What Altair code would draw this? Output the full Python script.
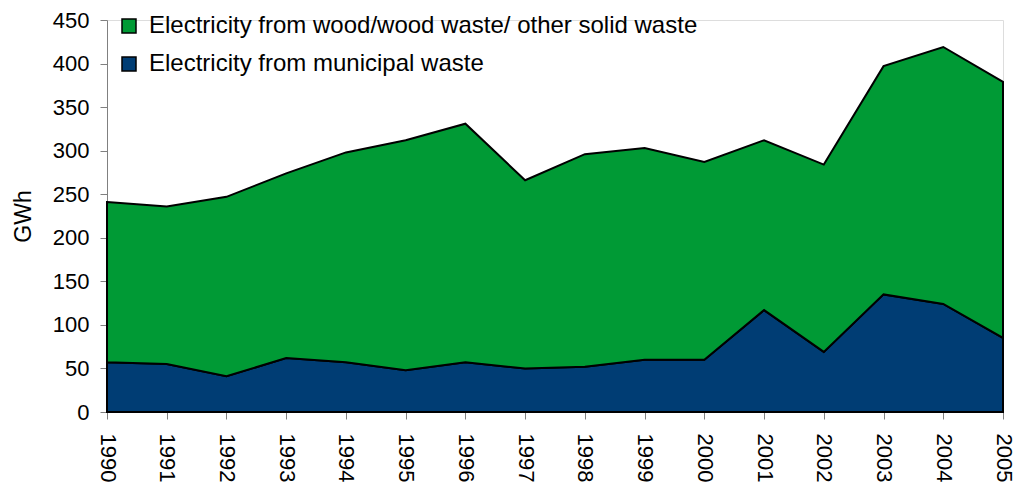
import altair as alt
import pandas as pd

years = list(range(1990, 2006))
municipal = [57, 55, 41, 62, 57, 48, 57, 50, 52, 60, 60, 117, 69, 135, 124, 85]
wood = [184, 181, 206, 212, 241, 264, 274, 216, 244, 243, 227, 195, 215, 262, 295, 294]

label_wood = "Electricity from wood/wood waste/ other solid waste"
label_mun = "Electricity from municipal waste"
series_labels = [label_wood, label_mun]
series_colors = ["#009A35", "#003D74"]

rows = []
for y, m, w in zip(years, municipal, wood):
    rows.append({"year": y, "value": m, "series": label_mun, "ord": 0})
    rows.append({"year": y, "value": w, "series": label_wood, "ord": 1})
df = pd.DataFrame(rows)

FONT = "Liberation Sans"

chart = alt.Chart(df).mark_area(stroke="black", strokeWidth=2, strokeJoin="miter").encode(
    x=alt.X("year:Q",
            scale=alt.Scale(domain=[1990, 2005], nice=False, zero=False),
            axis=alt.Axis(values=years, format="d", labelAngle=90, title=None,
                          grid=False, tickSize=7, labelPadding=14,
                          labelFontSize=22, labelFont=FONT, labelColor="black",
                          domainColor="#808080", tickColor="#808080",
                          labelOverlap=False, labelBaseline="middle", labelAlign="left")),
    y=alt.Y("value:Q", stack="zero",
            scale=alt.Scale(domain=[0, 450], nice=False),
            axis=alt.Axis(values=list(range(0, 451, 50)), title="GWh", grid=False,
                          tickSize=7, labelPadding=11, labelFontSize=22, labelFont=FONT,
                          labelColor="black", titleFont=FONT, titleFontSize=23,
                          titleFontWeight="normal", titleColor="black", titlePadding=17,
                          domainColor="#808080", tickColor="#808080")),
    color=alt.Color("series:N",
                    scale=alt.Scale(domain=series_labels, range=series_colors),
                    legend=alt.Legend(title=None, orient="none", legendX=10, legendY=-6,
                                      symbolType="square", symbolSize=196,
                                      symbolStrokeColor="black", symbolStrokeWidth=1.5,
                                      symbolOpacity=1,
                                      labelFontSize=24, labelFont=FONT, labelColor="black",
                                      labelOffset=8, rowPadding=14, labelLimit=800)),
    order=alt.Order("ord:Q"),
).properties(
    width=896, height=392,
    autosize=alt.AutoSizeParams(type="none"),
    padding={"left": 107, "top": 20, "right": 11, "bottom": 77},
).configure_view(stroke=None).configure(background="white")

chart.save("out.html", embed_options={"renderer": "svg", "actions": False})
